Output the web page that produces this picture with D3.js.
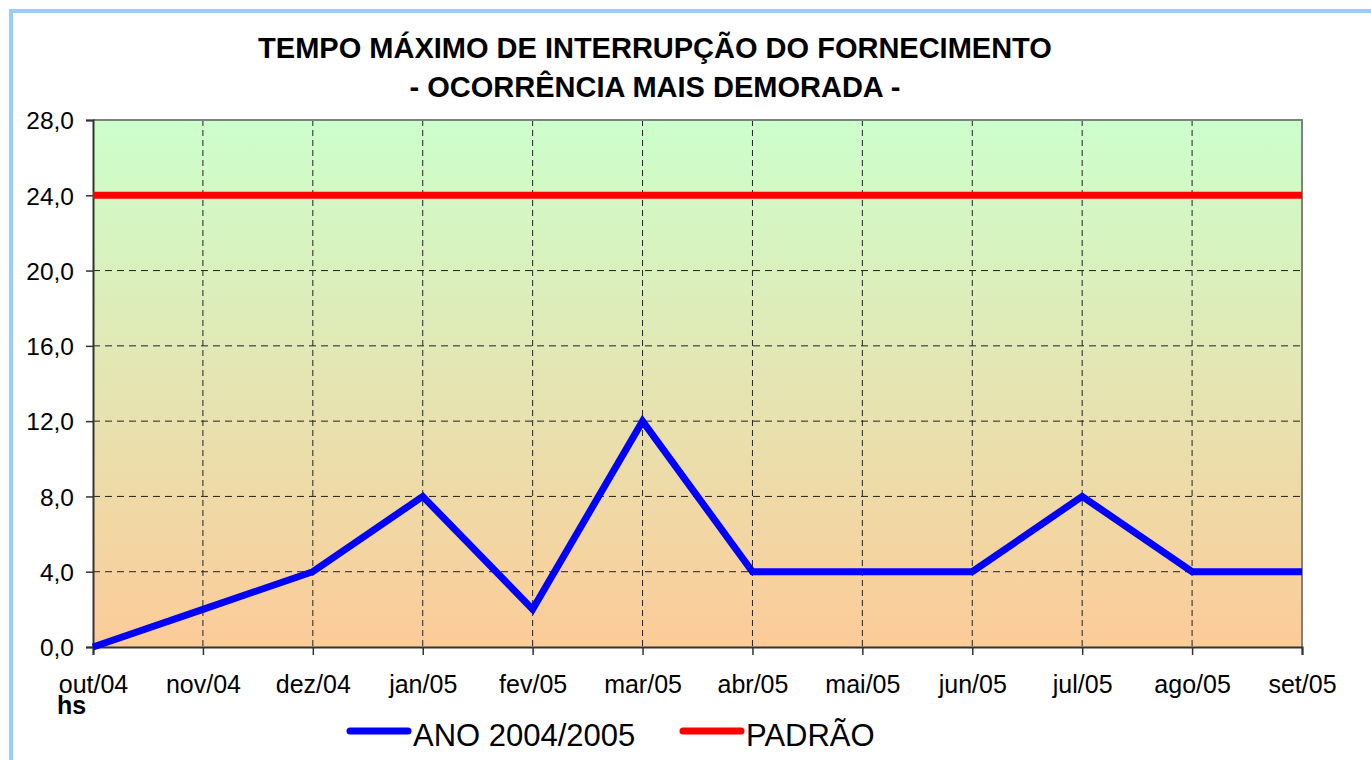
<!DOCTYPE html>
<html>
<head>
<meta charset="utf-8">
<script src="https://cdn.jsdelivr.net/npm/d3@7"></script>
<style>
    html, body { margin: 0; padding: 0; background: #fff; }
    svg text { font-family: "Liberation Sans", Arial, sans-serif; fill: #000; }
</style>
</head>
<body>
<div id="chart"></div>
<script>
const months = ['out/04', 'nov/04', 'dez/04', 'jan/05', 'fev/05', 'mar/05',
    'abr/05', 'mai/05', 'jun/05', 'jul/05', 'ago/05', 'set/05'];
const ano = [0, 2, 4, 8, 2, 12, 4, 4, 4, 8, 4, 4];
const padrao = [24, 24, 24, 24, 24, 24, 24, 24, 24, 24, 24, 24];
const yTicks = [0, 4, 8, 12, 16, 20, 24, 28];
const titleLines = ['TEMPO MÁXIMO DE INTERRUPÇÃO DO FORNECIMENTO', '- OCORRÊNCIA MAIS DEMORADA -'];

const W = 1371, H = 760;
const margin = { left: 93, right: 69, top: 120, bottom: 113 };
const plotW = W - margin.left - margin.right;
const plotH = H - margin.top - margin.bottom;
const FONT = '"Liberation Sans", Arial, sans-serif';

const svg = d3.select('#chart').append('svg')
    .attr('width', W)
    .attr('height', H);

// outer frame (only top/left visible in the picture)
svg.append('rect')
    .attr('x', 11).attr('y', 11)
    .attr('width', W + 20).attr('height', H + 20)
    .attr('fill', 'none')
    .attr('stroke', '#99ccff')
    .attr('stroke-width', 4);

const defs = svg.append('defs');
const grad = defs.append('linearGradient')
    .attr('id', 'bg')
    .attr('x1', 0).attr('y1', 0).attr('x2', 0).attr('y2', 1);
grad.append('stop').attr('offset', '0%').attr('stop-color', '#ccffcc');
grad.append('stop').attr('offset', '100%').attr('stop-color', '#fccb98');

const x = d3.scalePoint().domain(months).range([0, plotW]);
const y = d3.scaleLinear().domain([0, 28]).range([plotH, 0]);

const g = svg.append('g').attr('transform', `translate(${margin.left},${margin.top})`);

g.append('rect')
    .attr('width', plotW).attr('height', plotH)
    .attr('fill', 'url(#bg)');

// grid
g.append('g').selectAll('line.hgrid')
    .data(yTicks.filter(d => d > 0 && d < 28))
    .join('line')
    .attr('x1', 0).attr('x2', plotW)
    .attr('y1', d => y(d)).attr('y2', d => y(d))
    .attr('stroke', '#222').attr('stroke-width', 1)
    .attr('stroke-dasharray', '7,5');

g.append('g').selectAll('line.vgrid')
    .data(months.slice(1, -1))
    .join('line')
    .attr('x1', d => x(d)).attr('x2', d => x(d))
    .attr('y1', 0).attr('y2', plotH)
    .attr('stroke', '#222').attr('stroke-width', 1)
    .attr('stroke-dasharray', '6,4');

// top and right frame
g.append('path')
    .attr('d', `M0,0H${plotW}V${plotH}`)
    .attr('fill', 'none')
    .attr('stroke', '#808080')
    .attr('stroke-width', 2);

// axes
const yAxis = g.append('g')
    .call(d3.axisLeft(y).tickValues(yTicks).tickSize(7).tickPadding(12)
        .tickFormat(d => d3.format('.1f')(d).replace('.', ',')));
yAxis.select('.domain').attr('stroke', '#333').attr('stroke-width', 2);
yAxis.selectAll('.tick line').attr('stroke', '#333').attr('stroke-width', 1.5);
yAxis.selectAll('.tick text').attr('font-size', 24.5).attr('font-family', FONT).attr('dy', '0.36em');

const xAxis = g.append('g')
    .attr('transform', `translate(0,${plotH})`)
    .call(d3.axisBottom(x).tickSize(8).tickPadding(20));
xAxis.select('.domain').attr('stroke', '#333').attr('stroke-width', 2);
xAxis.selectAll('.tick line').attr('stroke', '#333').attr('stroke-width', 1.5);
xAxis.selectAll('.tick text').attr('font-size', 25).attr('font-family', FONT);

// series
const line = d3.line()
    .x((d, i) => x(months[i]))
    .y(d => y(d));

g.append('path')
    .datum(padrao)
    .attr('d', line)
    .attr('fill', 'none')
    .attr('stroke', '#ff0000')
    .attr('stroke-width', 7);

g.append('path')
    .datum(ano)
    .attr('d', line)
    .attr('fill', 'none')
    .attr('stroke', '#0000ff')
    .attr('stroke-width', 7)
    .attr('stroke-linejoin', 'miter');

// title
svg.append('text')
    .attr('x', 655).attr('y', 58)
    .attr('text-anchor', 'middle')
    .attr('font-size', 29).attr('font-weight', 'bold')
    .selectAll('tspan')
    .data(titleLines)
    .join('tspan')
    .attr('x', 655)
    .attr('dy', (d, i) => i === 0 ? 0 : 39)
    .text(d => d);

// unit label
svg.append('text')
    .attr('x', 57).attr('y', 714)
    .attr('font-size', 25).attr('font-weight', 'bold')
    .text('hs');

// legend
const legendItems = [
    { label: 'ANO 2004/2005', color: '#0000ff', x: 350 },
    { label: 'PADRÃO', color: '#ff0000', x: 683 }
];
const legend = svg.append('g').selectAll('g')
    .data(legendItems)
    .join('g')
    .attr('transform', d => `translate(${d.x},731)`);
legend.append('line')
    .attr('x1', 0).attr('x2', 58)
    .attr('stroke', d => d.color)
    .attr('stroke-width', 7)
    .attr('stroke-linecap', 'round');
legend.append('text')
    .attr('x', 63).attr('y', 15)
    .attr('font-size', 31)
    .text(d => d.label);
</script>
</body>
</html>
